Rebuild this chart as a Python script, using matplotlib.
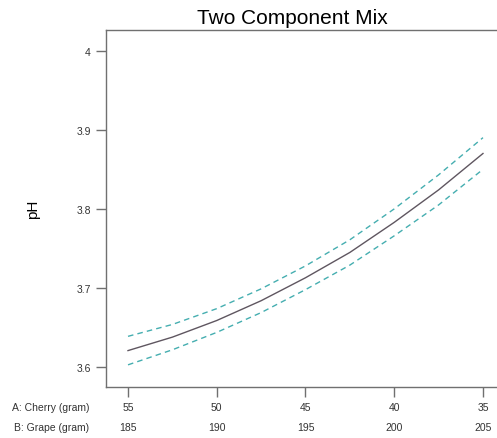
import matplotlib

matplotlib.use("Agg")
import matplotlib.pyplot as plt

cherry = [55, 52.5, 50, 47.5, 45, 42.5, 40, 37.5, 35]
ph_mean = [3.621, 3.638, 3.659, 3.684, 3.713, 3.745, 3.783, 3.824, 3.870]
ph_upper = [3.639, 3.654, 3.674, 3.699, 3.728, 3.761, 3.800, 3.843, 3.890]
ph_lower = [3.603, 3.622, 3.644, 3.669, 3.698, 3.729, 3.766, 3.805, 3.850]

cherry_ticks = [55, 50, 45, 40, 35]
grape_ticks = [185, 190, 195, 200, 205]
ph_ticks = [3.6, 3.7, 3.8, 3.9, 4.0]
ph_labels = ["3.6", "3.7", "3.8", "3.9", "4"]

plt.rcParams["font.family"] = ["Liberation Sans", "DejaVu Sans"]

dpi = 100
fig = plt.figure(figsize=(497 / dpi, 439 / dpi), dpi=dpi)
ax = fig.add_axes([106 / 497, 51 / 439, 391 / 497, 357 / 439])

ax.plot(cherry, ph_mean, color="#5f5660", linewidth=1.0)
ax.plot(cherry, ph_upper, color="#45aeb0", linewidth=1.0, dashes=(4, 3))
ax.plot(cherry, ph_lower, color="#45aeb0", linewidth=1.0, dashes=(4, 3))

ax.set_xlim(56.24, 34.21)
ax.set_ylim(3.575, 4.026)

ax.set_xticks(cherry_ticks)
ax.set_xticklabels([str(v) for v in cherry_ticks])
ax.set_yticks(ph_ticks)
ax.set_yticklabels(ph_labels)

for side in ("left", "bottom", "top"):
    ax.spines[side].set_color("#707070")
    ax.spines[side].set_linewidth(1.0)
ax.spines["right"].set_visible(False)

ax.tick_params(axis="both", direction="out", length=7, width=1.0,
               color="#707070", labelsize=7.5, labelcolor="#333333")
ax.tick_params(axis="x", pad=4)
ax.tick_params(axis="y", pad=4)

# second row of x labels for grape amount
for c, g in zip(cherry_ticks, grape_ticks):
    ax.annotate(str(g), xy=(c, 0), xycoords=("data", "axes fraction"),
                xytext=(0, -40), textcoords="offset pixels",
                ha="center", va="center", fontsize=7.5, color="#333333")

fig.text(89 / 497, 1 - 408 / 439, "A: Cherry (gram)", ha="right", va="center",
         fontsize=7.5, color="#333333")
fig.text(89 / 497, 1 - 428 / 439, "B: Grape (gram)", ha="right", va="center",
         fontsize=7.5, color="#333333")

fig.text(292 / 497, 1 - 18 / 439, "Two Component Mix", ha="center", va="center",
         fontsize=15, color="black")
fig.text(33 / 497, 1 - 209 / 439, "pH", ha="center", va="center",
         rotation=90, fontsize=11, color="black")

fig.savefig("out.png", dpi=dpi)
